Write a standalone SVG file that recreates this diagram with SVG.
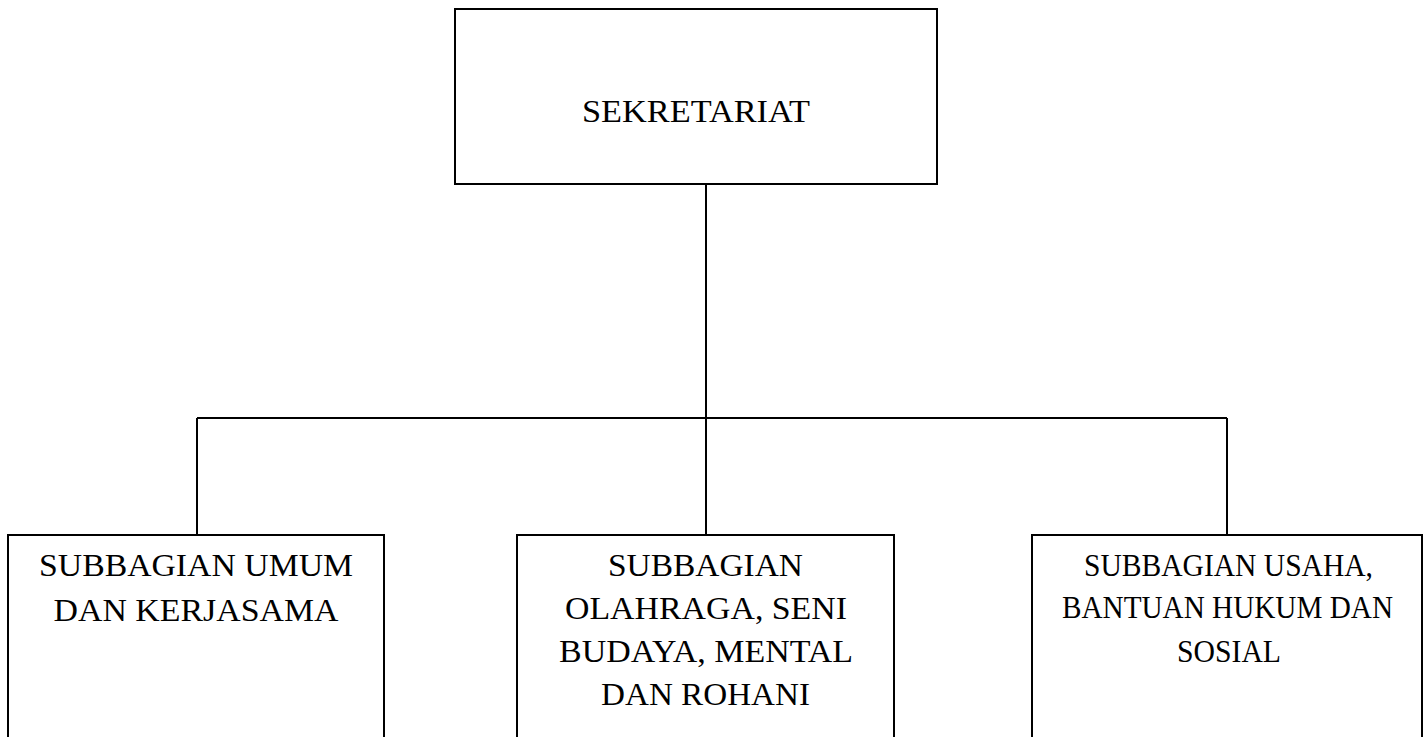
<svg xmlns="http://www.w3.org/2000/svg" width="1426" height="737" viewBox="0 0 1426 737">
<style>
.box{fill:#fff;stroke:#000;stroke-width:2}
.conn{fill:none;stroke:#000;stroke-width:2}
.t{font-family:"Liberation Serif","DejaVu Serif",serif;font-size:32px;fill:#000;text-anchor:middle}
</style>
<rect width="1426" height="737" fill="#fff"/>
<g id="connectors">
<path class="conn" d="M706 184V535M197 418H1227M197 418V535M1227 418V535"/>
</g>
<g id="sekretariat">
<rect class="box" x="455" y="9" width="482" height="175"/>
<text class="t" x="696" y="122" textLength="228" lengthAdjust="spacingAndGlyphs">SEKRETARIAT</text>
</g>
<g id="subbagian-umum">
<rect class="box" x="8" y="535" width="376" height="220"/>
<text class="t" x="196" y="576" textLength="314" lengthAdjust="spacingAndGlyphs">SUBBAGIAN UMUM</text>
<text class="t" x="196" y="621" textLength="285" lengthAdjust="spacingAndGlyphs">DAN KERJASAMA</text>
</g>
<g id="subbagian-olahraga">
<rect class="box" x="517" y="535" width="377" height="220"/>
<text class="t" x="705.5" y="576" textLength="195" lengthAdjust="spacingAndGlyphs">SUBBAGIAN</text>
<text class="t" x="706" y="619" textLength="282" lengthAdjust="spacingAndGlyphs">OLAHRAGA, SENI</text>
<text class="t" x="706" y="662" textLength="294" lengthAdjust="spacingAndGlyphs">BUDAYA, MENTAL</text>
<text class="t" x="705.5" y="705" textLength="209" lengthAdjust="spacingAndGlyphs">DAN ROHANI</text>
</g>
<g id="subbagian-usaha">
<rect class="box" x="1032" y="535" width="390" height="220"/>
<text class="t" x="1228.5" y="576" textLength="289" lengthAdjust="spacingAndGlyphs">SUBBAGIAN USAHA,</text>
<text class="t" x="1227.5" y="618" textLength="331" lengthAdjust="spacingAndGlyphs">BANTUAN HUKUM DAN</text>
<text class="t" x="1229" y="662" textLength="104" lengthAdjust="spacingAndGlyphs">SOSIAL</text>
</g>
</svg>
